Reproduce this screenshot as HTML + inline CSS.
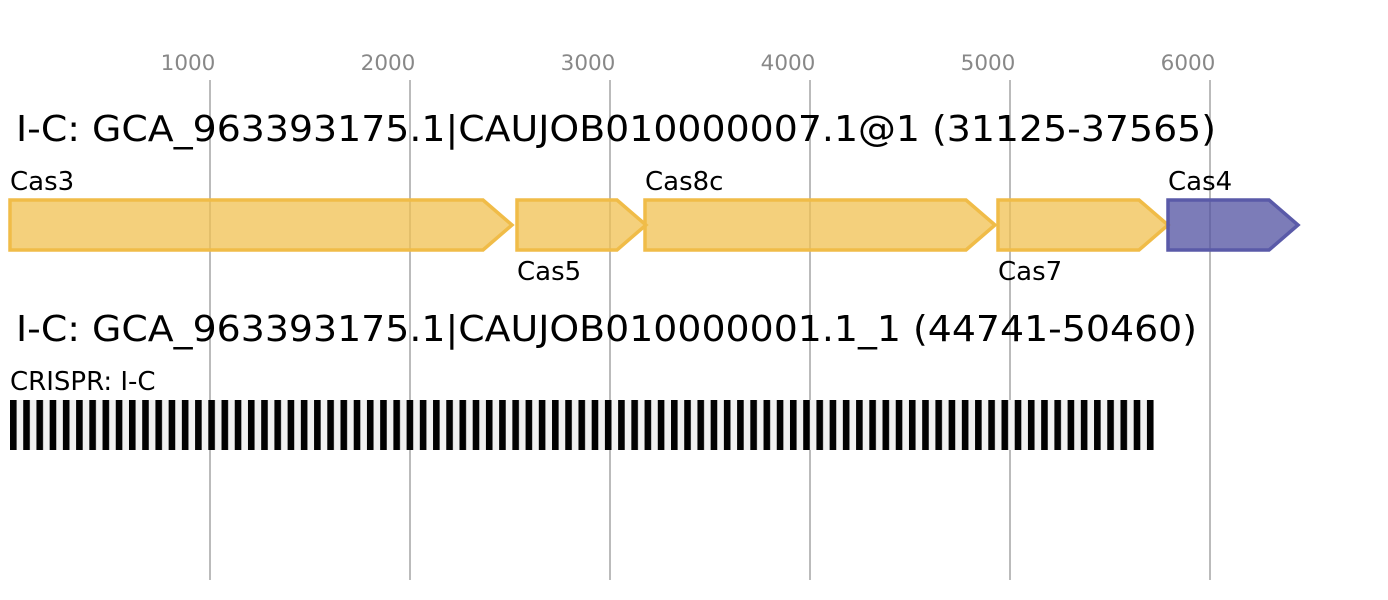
<!DOCTYPE html>
<html><head><meta charset="utf-8"><style>html,body{margin:0;padding:0;background:#fff}svg{display:block}text{font-family:"DejaVu Sans","Liberation Sans",sans-serif}</style></head><body>
<svg width="1388" height="600" viewBox="0 0 1388 600" xmlns="http://www.w3.org/2000/svg">
<defs>
<pattern id="cr" x="10" y="0" width="13.22" height="50" patternUnits="userSpaceOnUse">
<rect x="0" y="0" width="13.22" height="50" fill="#f0f0f0"/>
<rect x="0" y="0" width="6.6" height="50" fill="#000"/>
</pattern>
</defs>
<g stroke="#bbb" stroke-width="2">
<line x1="210" y1="80" x2="210" y2="580"/><line x1="410" y1="80" x2="410" y2="580"/><line x1="610" y1="80" x2="610" y2="580"/><line x1="810" y1="80" x2="810" y2="580"/><line x1="1010" y1="80" x2="1010" y2="580"/><line x1="1210" y1="80" x2="1210" y2="580"/>
</g>
<g fill="#888" font-size="21.5" text-anchor="middle">
<text x="188" y="70">1000</text><text x="388" y="70">2000</text><text x="588" y="70">3000</text><text x="788" y="70">4000</text><text x="988" y="70">5000</text><text x="1188" y="70">6000</text>
</g>
<text x="16" y="141" font-size="36" textLength="1200" lengthAdjust="spacingAndGlyphs">I-C: GCA_963393175.1|CAUJOB010000007.1@1 (31125-37565)</text>
<text x="16" y="341" font-size="36" textLength="1181" lengthAdjust="spacingAndGlyphs">I-C: GCA_963393175.1|CAUJOB010000001.1_1 (44741-50460)</text>
<g fill="#f0c050" fill-opacity="0.75" stroke="#f0bc48" stroke-width="3.5">
<polygon points="10,200 483,200 512,225 483,250 10,250"/>
<polygon points="517,200 617,200 646,225 617,250 517,250"/>
<polygon points="645,200 966,200 995,225 966,250 645,250"/>
<polygon points="998,200 1139,200 1168,225 1139,250 998,250"/>
</g>
<polygon points="1168,200 1269,200 1298,225 1269,250 1168,250" fill="#5050a0" fill-opacity="0.75" stroke="#5a5aa8" stroke-width="3.5"/>
<g font-size="26" fill="#000">
<text x="10" y="190">Cas3</text><text x="517" y="280">Cas5</text><text x="645" y="190">Cas8c</text><text x="998" y="280">Cas7</text><text x="1168" y="190">Cas4</text>
<text x="10" y="390">CRISPR: I-C</text>
</g>
<rect x="10" y="400" width="1144" height="50" fill="url(#cr)"/>
</svg>
</body></html>
